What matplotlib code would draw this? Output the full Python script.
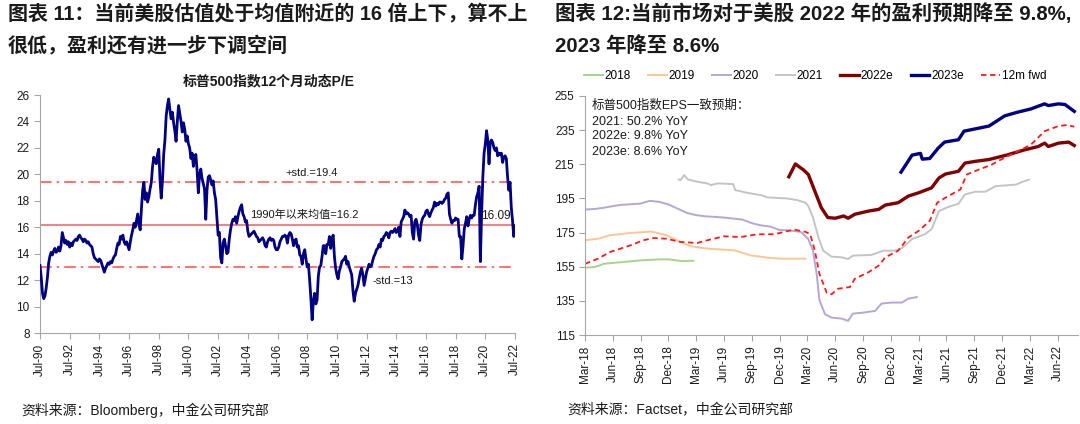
import matplotlib
matplotlib.use("Agg")
import matplotlib.pyplot as plt
import numpy as np
import pandas as pd

plt.rcParams['font.family'] = ['Liberation Sans', 'Noto Sans CJK SC', 'DejaVu Sans']

# ---------------- Left chart data: S&P500 12M forward P/E (monthly, Jul-1990 .. Jul-2022)
pe_start = "1990-07"
pe_values = [
    13.1, 12.2, 11.0, 10.6, 10.8, 11.4,
    12.2, 13.3, 13.8, 14.1, 13.9, 14.2, 14.4, 14.1, 14.2, 14.5, 14.2, 14.6,
    15.6, 15.2, 14.8, 15.0, 14.7, 14.9, 14.5, 14.8, 14.6, 14.9, 15.0, 15.1,
    15.0, 15.3, 15.4, 15.2, 15.1, 14.9, 15.1, 15.0, 14.8, 14.9, 14.7, 14.6,
    14.5, 14.0, 13.7, 13.6, 13.5, 13.4, 13.6, 13.5, 13.2, 12.9, 12.6, 12.9,
    13.1, 13.3, 13.2, 13.4, 13.3, 13.6, 13.8, 13.9, 14.4, 14.8, 14.7, 15.3,
    15.1, 15.4, 14.9, 14.7, 14.9, 14.6, 14.3, 14.9, 15.4, 15.8, 16.3, 16.0,
    16.5, 17.0, 16.2, 15.8, 17.4, 18.8, 19.4, 18.1, 18.6, 17.9, 18.3, 18.9,
    19.4, 20.6, 21.3, 21.0, 20.8, 21.5, 21.9, 19.6, 18.2, 19.5, 21.5, 22.6,
    24.4, 25.2, 25.7, 24.9, 24.2, 24.7, 23.9, 23.3, 22.5, 24.0, 25.2, 24.6,
    24.0, 23.2, 23.9, 23.4, 22.5, 22.9, 22.3, 22.0, 21.2, 21.6, 20.6, 21.4,
    21.5, 20.3, 18.6, 20.0, 20.4, 19.7, 19.3, 18.9, 16.6, 18.8, 19.8, 19.9,
    19.6, 19.2, 19.5, 18.6, 18.1, 16.7, 15.4, 15.6, 13.7, 13.3, 14.8, 15.1,
    14.6, 14.0, 14.1, 15.1, 15.8, 16.3, 16.6, 16.5, 16.8, 16.3, 16.8, 17.2,
    17.5, 17.7, 17.0, 16.8, 16.4, 16.5, 15.7, 15.3, 15.4, 15.5, 15.6, 15.7,
    15.5, 15.3, 15.2, 14.9, 15.0, 15.1, 15.2, 15.0, 14.6, 14.5, 14.9, 15.1,
    15.2, 15.0, 15.1, 15.0, 14.5, 14.3, 14.3, 14.5, 14.9, 15.1, 15.3, 15.3,
    15.4, 15.3, 14.8, 15.4, 15.6, 15.5, 15.1, 14.6, 15.0, 15.1, 14.5, 14.6,
    13.9, 13.8, 13.2, 14.0, 14.3, 13.6, 13.0, 13.2, 12.0, 10.6, 9.0, 10.4,
    11.0, 10.2, 10.5, 12.3, 13.0, 13.1, 13.8, 14.6, 14.6, 14.0, 14.7, 14.7,
    15.3, 14.4, 15.1, 15.4, 13.8, 12.9, 12.4, 12.1, 12.7, 13.0, 13.4, 13.5,
    13.6, 13.8, 13.2, 13.4, 13.0, 12.7, 12.4, 11.2, 10.4, 11.0, 11.3, 11.6,
    12.1, 12.6, 12.9, 12.4, 11.6, 12.1, 12.6, 12.9, 13.2, 13.0, 13.1, 13.5,
    13.8, 14.0, 14.3, 14.4, 14.7, 14.5, 15.1, 15.0, 15.3, 15.4, 15.6, 15.5,
    15.2, 15.6, 15.7, 15.6, 15.7, 15.9, 15.6, 15.7, 16.0, 15.3, 16.4, 16.6,
    16.8, 17.3, 17.0, 17.1, 17.0, 16.8, 16.9, 15.6, 15.1, 16.4, 16.6, 16.2,
    15.4, 15.0, 16.2, 16.6, 16.8, 16.9, 17.2, 17.3, 17.0, 16.8, 17.1, 17.3,
    17.5, 17.9, 17.6, 17.8, 17.7, 17.9, 17.9, 17.8, 17.9, 18.1, 18.2, 18.5,
    18.6, 17.0, 16.6, 16.3, 16.5, 16.5, 16.7, 16.6, 16.6, 15.3, 15.3, 13.6,
    14.6, 15.9, 16.3, 16.8, 16.1, 16.6, 16.9, 16.7, 16.9, 16.9, 17.7, 18.3,
    18.6, 19.1, 13.4, 17.0, 19.8, 21.6, 22.3, 23.3, 22.6, 20.8, 22.4, 22.6,
    22.4, 22.0, 21.8, 22.0, 21.4, 21.6, 21.5, 21.6, 20.9, 21.3, 21.4, 21.2,
    19.8, 18.8, 19.4, 17.5, 16.5, 15.3, 16.09,
]
pe_mean = 16.2
pe_plus_std = 19.4
pe_minus_std = 13.0
pe_last = 16.09
left_xticklabels = ["Jul-%02d" % (y % 100) for y in range(1990, 2023, 2)]
left_yticks = [8, 10, 12, 14, 16, 18, 20, 22, 24, 26]

# ---------------- Right chart data: S&P500 EPS consensus (x = months since Mar-2018)
m_2018 = [0, 1, 1.5, 2, 4, 6, 8, 9, 10.5, 11.7]
v_2018 = [154.4, 154.8, 155.6, 156.7, 157.7, 158.7, 159.3, 159.3, 158.3, 158.5]

m_2019 = [0, 1.4, 2.7, 4.9, 7.2, 8.8, 10.3, 11.4, 13.2, 15.0, 16.1, 17.9, 19.7, 21.1, 23.8]
v_2019 = [170.5, 171.4, 173.4, 174.8, 175.6, 173.4, 169.5, 167.0, 165.6, 165.0, 164.6, 161.6, 160.3, 159.7, 159.7]

m_2020 = [0, 1, 2, 3, 4, 5, 6, 7, 8, 9, 10, 11, 12, 13, 14, 15, 16, 17, 18, 19, 20, 21, 22, 23.3,
          24.1, 24.6, 25.0, 25.3, 25.9, 26.6, 27.7, 28.4, 28.9, 30.0, 31.3, 32.0, 33.1, 34.2, 34.9, 35.8]
v_2020 = [188.5, 188.8, 189.5, 190.5, 191.3, 191.6, 192.0, 193.6, 193.0, 191.5, 189.0, 186.5, 185.2, 184.5,
          184.2, 183.8, 183.2, 182.6, 180.5, 179.2, 178.5, 176.5, 176.3, 175.4,
          171.2, 164.4, 150.8, 135.3, 127.2, 125.2, 124.6, 123.3, 127.5, 128.1, 129.1, 133.4, 134.0, 134.0,
          136.3, 137.2]

m_2021 = [10.1, 10.3, 10.7, 11.1, 12.1, 13.2, 13.6, 14.3, 16.0, 16.2, 17.5, 19.0, 19.7, 21.8, 22.9, 23.8,
          24.1, 24.6, 25.2, 25.7, 26.6, 27.7, 28.4, 28.9, 30.9, 32.2, 33.5, 34.2, 35.3, 36.7, 37.4, 38.2,
          39.2, 40.3, 41.0, 42.1, 43.2, 44.3, 46.5, 47.2, 47.9]
v_2021 = [206.1, 205.7, 208.7, 206.1, 204.8, 203.8, 202.8, 203.8, 203.4, 199.9, 198.3, 196.9, 195.6, 195.0,
          194.0, 192.5, 190.5, 183.8, 172.1, 164.4, 160.9, 160.5, 159.5, 161.5, 161.9, 164.4, 164.4, 165.9,
          171.2, 174.1, 177.0, 187.6, 190.0, 191.9, 197.3, 198.9, 198.9, 202.2, 203.1, 204.7, 206.0]

m_2022e = [22.0, 22.7, 23.6, 24.1, 24.8, 25.5, 26.2, 27.0, 27.9, 28.4, 29.1, 30.6, 31.7, 32.4, 33.8, 34.9,
           36.0, 37.4, 38.2, 38.9, 40.3, 41.0, 42.1, 43.6, 45.5, 47.4, 48.9, 49.6, 50.0, 51.1, 52.2, 52.8]
v_2022e = [207.7, 215.2, 211.6, 209.0, 199.3, 189.6, 183.8, 183.4, 184.7, 183.4, 185.7, 187.6, 188.6, 191.1,
           192.5, 196.4, 198.3, 201.2, 207.0, 209.3, 210.9, 215.7, 216.7, 217.8, 220.4, 223.4, 225.4, 227.4,
           225.4, 227.4, 228.0, 226.0]

m_2023e = [34.1, 35.3, 36.2, 36.4, 37.2, 38.1, 38.8, 40.3, 40.9, 41.8, 43.6, 45.3, 46.6, 48.1, 49.6, 50.0,
           51.1, 51.8, 52.8]
v_2023e = [210.4, 220.4, 221.4, 218.0, 218.4, 224.4, 228.0, 229.4, 234.4, 235.4, 237.4, 243.4, 245.4, 247.4,
           250.4, 249.4, 250.4, 250.0, 246.0]

m_fwd = [0, 1.4, 2.7, 4.9, 6.3, 7.4, 8.8, 10.3, 12.1, 13.5, 15.0, 16.8, 18.6, 20.4, 21.8, 22.6, 23.8,
         24.3, 24.8, 25.3, 26.1, 26.6, 27.3, 28.6, 29.1, 30.6, 31.7, 32.4, 33.8, 34.9, 36.0, 37.2, 38.0,
         39.2, 40.5, 41.2, 42.5, 43.9, 44.5, 46.6, 48.1, 49.6, 51.1, 52.0, 52.8]
v_fwd = [156.7, 159.7, 163.6, 167.5, 170.5, 171.8, 171.4, 169.5, 168.9, 170.9, 172.8, 172.4, 174.0, 174.0,
         175.8, 176.7, 175.4, 174.1, 164.4, 150.8, 139.6, 138.8, 142.1, 143.1, 147.9, 151.8, 155.7, 160.5,
         164.4, 172.1, 176.0, 181.8, 192.5, 196.4, 200.2, 209.0, 211.9, 214.8, 216.7, 222.4, 226.4, 234.4,
         237.4, 238.0, 237.0]

right_xticklabels = ["Mar-18", "Jun-18", "Sep-18", "Dec-18", "Mar-19", "Jun-19", "Sep-19", "Dec-19",
                     "Mar-20", "Jun-20", "Sep-20", "Dec-20", "Mar-21", "Jun-21", "Sep-21", "Dec-21",
                     "Mar-22", "Jun-22"]
right_yticks = [115, 135, 155, 175, 195, 215, 235, 255]

series_labels = ["2018", "2019", "2020", "2021", "2022e", "2023e", "12m fwd"]

# ---------------- Figure
W, H = 1080, 424
fig = plt.figure(figsize=(W / 100, H / 100), dpi=100)

def fx(px):
    return px / W

def fy(py):
    return 1 - py / H

axis_gray = '#a6a6a6'
txt = '#1a1a1a'

# Titles
fig.text(fx(8), fy(14), "图表 11：当前美股估值处于均值附近的 16 倍上下，算不上", fontsize=14.4, fontweight='bold',
         va='center', ha='left', color=txt)
fig.text(fx(8), fy(46), "很低，盈利还有进一步下调空间", fontsize=14.4, fontweight='bold',
         va='center', ha='left', color=txt)
fig.text(fx(555), fy(14), "图表 12:当前市场对于美股 2022 年的盈利预期降至 9.8%,", fontsize=14.7, fontweight='bold',
         va='center', ha='left', color=txt)
fig.text(fx(555), fy(46), "2023 年降至 8.6%", fontsize=14.7, fontweight='bold',
         va='center', ha='left', color=txt)

# Sources
fig.text(fx(21), fy(410), "资料来源：Bloomberg，中金公司研究部", fontsize=10, va='center', ha='left', color=txt)
fig.text(fx(567), fy(410), "资料来源：Factset，中金公司研究部", fontsize=10, va='center', ha='left', color=txt)

# ---------------- Left axes
ax1 = fig.add_axes([fx(40), fy(333), fx(515) - fx(40), fy(95) - fy(333)])
dates = pd.date_range(pe_start, periods=len(pe_values), freq='MS')
pe_x = dates.year + (dates.month - 1) / 12.0
ax1.plot(pe_x, pe_values, color='#000080', lw=2.0, zorder=3)
ax1.axhline(pe_mean, color='#f26b6b', lw=1.2, zorder=2)
ax1.axhline(pe_plus_std, color='#ff5a5a', lw=1.2, ls=(0, (7, 3, 1.5, 3)), zorder=2)
ax1.axhline(pe_minus_std, color='#ff5a5a', lw=1.2, ls=(0, (7, 3, 1.5, 3)), zorder=2)
ax1.set_xlim(1990.5, 2022.5)
ax1.set_ylim(8, 26)
ax1.set_yticks(left_yticks)
ax1.set_xticks([1990.5 + 2 * i for i in range(len(left_xticklabels))])
ax1.set_xticklabels(left_xticklabels, rotation=90, fontsize=8.5)
ax1.tick_params(axis='y', labelsize=8.5)
for s in ['top', 'right']:
    ax1.spines[s].set_visible(False)
for s in ['left', 'bottom']:
    ax1.spines[s].set_color(axis_gray)
ax1.tick_params(colors=axis_gray, labelcolor=txt, length=4, direction='out')
ax1.text(2008.8, 20.1, "+std.=19.4", fontsize=8, ha='center', va='center', color=txt)
ax1.text(2008.3, 16.95, "1990年以来均值=16.2", fontsize=8, ha='center', va='center', color=txt)
ax1.text(2012.9, 11.95, "-std.=13", fontsize=8, ha='left', va='center', color=txt)
ax1.text(2021.2, 16.88, "%.2f" % pe_last, fontsize=8.5, ha='center', va='center', color=txt)
fig.text(fx(269), fy(81), "标普500指数12个月动态P/E", fontsize=10, fontweight='bold', ha='center',
         va='center', color=txt)

# ---------------- Right axes
ax2 = fig.add_axes([fx(585), fy(335), fx(1078) - fx(585), fy(96) - fy(335)])
h = []
h += ax2.plot(m_2018, v_2018, color='#a9d18e', lw=1.4)
h += ax2.plot(m_2019, v_2019, color='#fac795', lw=1.4)
h += ax2.plot(m_2020, v_2020, color='#b4a7d6', lw=1.4)
h += ax2.plot(m_2021, v_2021, color='#c4c4c4', lw=1.4)
h += ax2.plot(m_2022e, v_2022e, color='#7f0000', lw=2.4)
h += ax2.plot(m_2023e, v_2023e, color='#000080', lw=2.4)
h += ax2.plot(m_fwd, v_fwd, color='#ff1a1a', lw=1.3, ls=(0, (3, 2)))
ax2.set_xlim(0, 53.2)
ax2.set_ylim(115, 255)
ax2.set_yticks(right_yticks)
ax2.set_xticks([3 * i for i in range(len(right_xticklabels))])
ax2.set_xticklabels(right_xticklabels, rotation=90, fontsize=8.5)
ax2.tick_params(axis='y', labelsize=8.5)
for s in ['top', 'right']:
    ax2.spines[s].set_visible(False)
for s in ['left', 'bottom']:
    ax2.spines[s].set_color(axis_gray)
ax2.tick_params(colors=axis_gray, labelcolor=txt, length=4, direction='out')

fig.legend(h, series_labels, ncol=7, loc='center left', bbox_to_anchor=(fx(584), fy(76)),
           frameon=False, fontsize=8.5, handlelength=1.6, handletextpad=0.15, columnspacing=1.45,
           borderaxespad=0, borderpad=0)

ann = ["标普500指数EPS一致预期：", "2021: 50.2% YoY", "2022e: 9.8% YoY", "2023e: 8.6% YoY"]
ann_y = [106, 122, 136, 152]
for t, yy in zip(ann, ann_y):
    fig.text(fx(592), fy(yy), t, fontsize=9, ha='left', va='center', color=txt)

fig.savefig("out.png", dpi=100)
